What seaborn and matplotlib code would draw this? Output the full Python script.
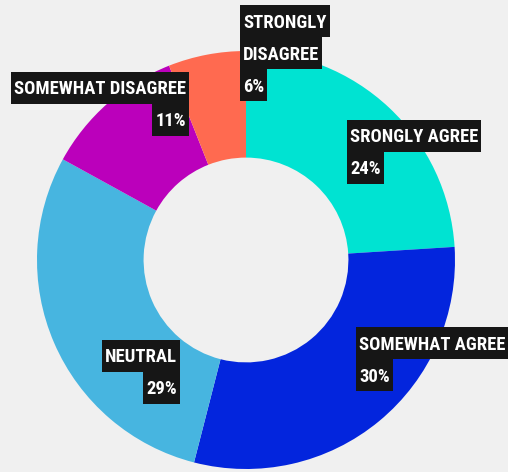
import matplotlib
matplotlib.use("Agg")
import matplotlib.pyplot as plt
from matplotlib.patches import Rectangle
import seaborn as sns

# Survey response shares, clockwise from the top
categories = ["SRONGLY AGREE", "SOMEWHAT AGREE", "NEUTRAL", "SOMEWHAT DISAGREE", "STRONGLY DISAGREE"]
shares = [24, 30, 29, 11, 6]
colors = ["#00e3d2", "#0325dd", "#47b5e0", "#bb00bb", "#ff6a50"]

# label line breaks and placement (pixel box edge from top-left, alignment)
label_lines = [["SRONGLY AGREE"], ["SOMEWHAT AGREE"], ["NEUTRAL"], ["SOMEWHAT DISAGREE"], ["STRONGLY", "DISAGREE"]]
label_anchor = [(347, 120, "left"), (356, 327, "left"), (180, 340, "right"), (189, 72, "right"), (240, 5, "left")]

sns.set_theme(style="white")
plt.rcParams["font.family"] = ["Liberation Sans Narrow", "DejaVu Sans Condensed",
                               "Roboto Condensed", "Open Sans Condensed", "DejaVu Sans"]
plt.rcParams["font.stretch"] = "condensed"

W, H = 508, 472
fig = plt.figure(figsize=(W / 100, H / 100), dpi=100, facecolor="#f0f0f0")
ax = fig.add_axes([0, 0, 1, 1])
ax.set_facecolor("#f0f0f0")

outer_r = 209
ax.pie(shares, colors=colors, startangle=90, counterclock=False,
       center=(246, H - 260), radius=outer_r, frame=True,
       wedgeprops=dict(width=outer_r * 0.51, edgecolor="none"))
ax.set_xlim(0, W)
ax.set_ylim(0, H)
ax.set_aspect("equal")
ax.axis("off")

# each label line sits on its own dark strip
line_h = 32
pad_x = 3
texts = []
for lines, share, (x, y, ha) in zip(label_lines, shares, label_anchor):
    tx = x + pad_x if ha == "left" else x - pad_x
    for i, txt in enumerate(lines + [f"{share}%"]):
        top = y + i * line_h
        t = ax.text(tx, H - (top + 22.5), txt, ha=ha, va="baseline",
                    fontsize=13.4, fontweight="bold", color="white", zorder=4)
        texts.append((t, top))

fig.canvas.draw()
renderer = fig.canvas.get_renderer()
inv = ax.transData.inverted()
for t, top in texts:
    bb = t.get_window_extent(renderer)
    (x0, _), (x1, _) = inv.transform([(bb.x0, 0), (bb.x1, 0)])
    ax.add_patch(Rectangle((x0 - pad_x, H - top - line_h), (x1 - x0) + 2 * pad_x, line_h,
                           facecolor="#161616", edgecolor="none", zorder=3))

fig.savefig("out.png", dpi=100, facecolor=fig.get_facecolor())
